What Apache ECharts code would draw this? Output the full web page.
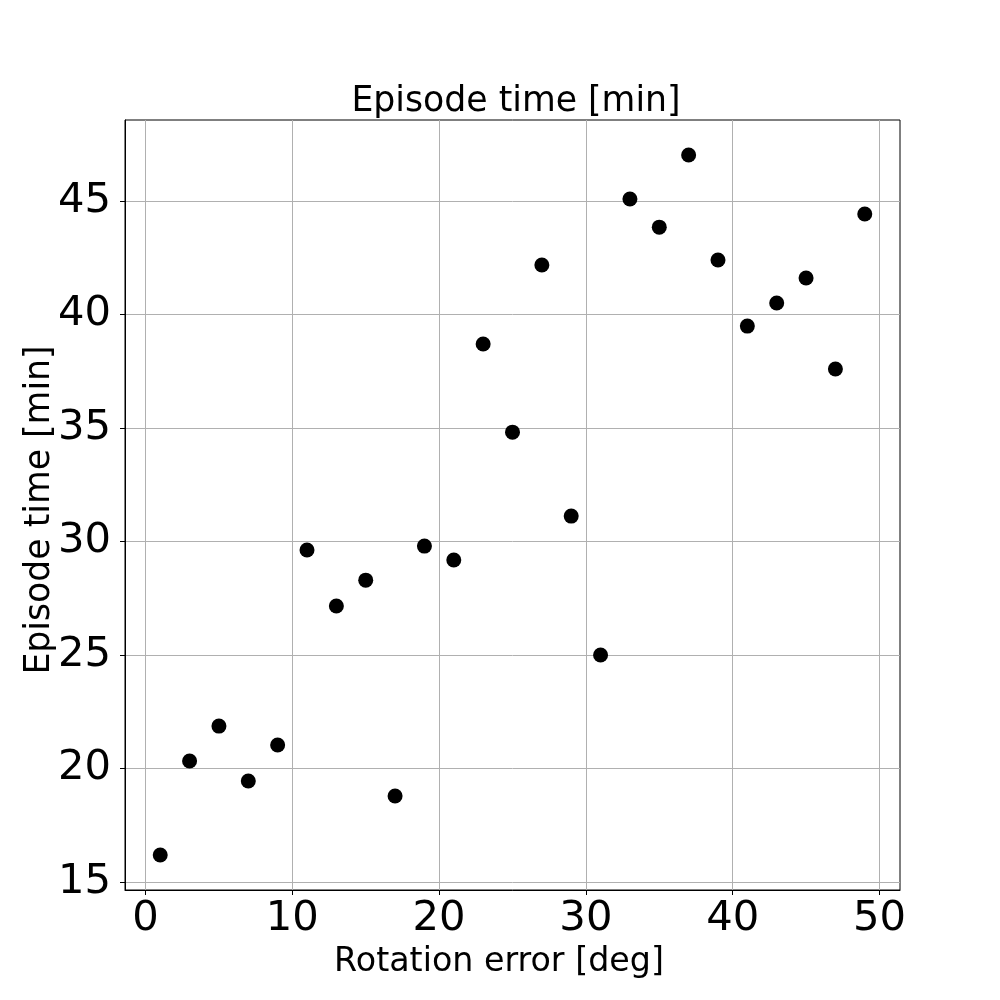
<!DOCTYPE html>
<html>
<head>
<meta charset="UTF-8">
<title>Episode time vs rotation error</title>
<script src="https://cdn.jsdelivr.net/npm/echarts@6/dist/echarts.min.js"></script>
<style>
  body { margin: 0; background: #fff; }
</style>
</head>
<body>
<div id="main" style="width: 1000px;height:1000px;"></div>
<script type="text/javascript">
// data
var rotErr = [1, 3, 5, 7, 9, 11, 13, 15, 17, 19, 21, 23, 25, 27, 29, 31, 33, 35, 37, 39, 41, 43, 45, 47, 49];
var epTime = [16.19, 20.33, 21.87, 19.45, 21.04, 29.63, 27.16, 28.30, 18.79, 29.80, 29.19, 38.70, 34.82,
              42.18, 31.12, 25.00, 45.09, 43.85, 47.03, 42.40, 39.49, 40.51, 41.61, 37.60, 44.43];
var xTicks = [0, 10, 20, 30, 40, 50];
var yTicks = [15, 20, 25, 30, 35, 40, 45];

var points = [];
for (var i = 0; i < rotErr.length; i++) {
  points.push([rotErr[i], epTime[i]]);
}

var font = 'DejaVu Sans';
var myChart = echarts.init(document.getElementById('main'));

var option = {
  animation: false,
  title: {
    text: 'Episode time [min]',
    left: 511,
    textAlign: 'center',
    top: 79,
    textStyle: { fontFamily: font, fontSize: 34.7, fontWeight: 'normal', color: '#000' }
  },
  grid: {
    left: 125, right: 100, top: 120, bottom: 110,
    show: true, borderColor: '#000', borderWidth: 1
  },
  xAxis: {
    type: 'value',
    min: -1.4,
    max: 51.4,
    name: 'Rotation error [deg]',
    nameLocation: 'middle',
    nameGap: 56,
    nameMoveOverlap: false,
    // label sits a bit left of the plot centre in the original
    nameTextStyle: { fontFamily: font, fontSize: 33.3, color: '#000', padding: [0, 27, 0, 0] },
    axisLine: { show: true, onZero: false, lineStyle: { color: '#000', width: 1 } },
    axisTick: { show: true, length: 5, customValues: xTicks, lineStyle: { color: '#000' } },
    axisLabel: { customValues: xTicks, margin: 8, fontFamily: font, fontSize: 41.7, color: '#000' },
    splitLine: { show: true, lineStyle: { color: '#b0b0b0', width: 1 } }
  },
  yAxis: {
    type: 'value',
    min: 14.65,
    max: 48.57,
    name: 'Episode time [min]',
    nameLocation: 'middle',
    nameGap: 68,
    nameMoveOverlap: false,
    nameTextStyle: { fontFamily: font, fontSize: 34.7, color: '#000', padding: [0, 10, 0, 0] },
    axisLine: { show: true, onZero: false, lineStyle: { color: '#000', width: 1 } },
    axisTick: { show: true, length: 5, customValues: yTicks, lineStyle: { color: '#000' } },
    axisLabel: { customValues: yTicks, margin: 14, fontFamily: font, fontSize: 41.7, color: '#000' },
    splitLine: { show: true, lineStyle: { color: '#b0b0b0', width: 1 } }
  },
  series: [{
    type: 'scatter',
    data: points,
    symbol: 'circle',
    symbolSize: 15,
    itemStyle: { color: '#000', opacity: 1 }
  }]
};

myChart.setOption(option);
</script>
</body>
</html>
